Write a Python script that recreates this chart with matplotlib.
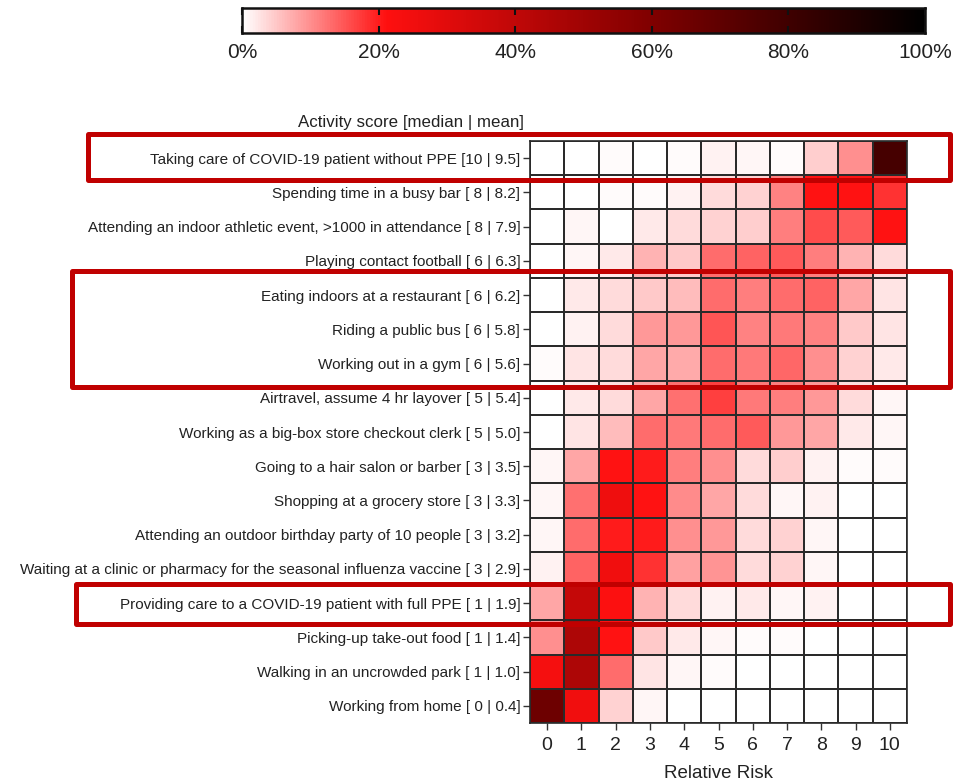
import numpy as np
import matplotlib
matplotlib.use("Agg")
import matplotlib.pyplot as plt
from matplotlib.colors import LinearSegmentedColormap
from matplotlib.patches import Rectangle
from matplotlib.transforms import blended_transform_factory

plt.rcParams['font.family'] = ['Liberation Sans', 'DejaVu Sans']

activities = [
    "Taking care of COVID-19 patient without PPE [10 | 9.5]",
    "Spending time in a busy bar [ 8 | 8.2]",
    "Attending an indoor athletic event, >1000 in attendance [ 8 | 7.9]",
    "Playing contact football [ 6 | 6.3]",
    "Eating indoors at a restaurant [ 6 | 6.2]",
    "Riding a public bus [ 6 | 5.8]",
    "Working out in a gym [ 6 | 5.6]",
    "Airtravel, assume 4 hr layover [ 5 | 5.4]",
    "Working as a big-box store checkout clerk [ 5 | 5.0]",
    "Going to a hair salon or barber [ 3 | 3.5]",
    "Shopping at a grocery store [ 3 | 3.3]",
    "Attending an outdoor birthday party of 10 people [ 3 | 3.2]",
    "Waiting at a clinic or pharmacy for the seasonal influenza vaccine [ 3 | 2.9]",
    "Providing care to a COVID-19 patient with full PPE [ 1 | 1.9]",
    "Picking-up take-out food [ 1 | 1.4]",
    "Walking in an uncrowded park [ 1 | 1.0]",
    "Working from home [ 0 | 0.4]",
]
risk_levels = [0, 1, 2, 3, 4, 5, 6, 7, 8, 9, 10]

# percentage of respondents per risk score (rows = activities)
no_ppe     = [0, 0, 0.5, 0.3, 0.6, 1.5, 1, 0.6, 4.5, 10, 78]
busy_bar   = [0, 0, 0.4, 0.4, 1.5, 3.5, 4, 11, 21, 21, 18]
athletic   = [0, 1, 0.3, 2, 3.5, 4, 4.5, 11.5, 16, 14.5, 21]
football   = [0, 1, 2, 7, 5, 13, 14, 14.5, 11.5, 7, 3.5]
restaurant = [0, 2, 3.5, 5, 6, 13, 11.5, 13, 14, 8, 2.5]
bus        = [0.3, 1.5, 3.5, 9, 9, 15, 11, 12, 11, 5, 2.5]
gym        = [0.5, 2.5, 3.5, 8, 7.5, 13, 12, 13.5, 10, 4, 2]
airtravel  = [0.2, 2, 3.5, 8, 12.5, 17, 12, 11.5, 9, 3.5, 1]
checkout   = [0.2, 2.5, 6, 13, 12, 13, 14.5, 9, 8, 2, 1]
hair_salon = [1, 8, 21, 20, 11.5, 10, 3.5, 4.5, 1.5, 0.5, 0.4]
grocery    = [1, 12.5, 26, 21, 10.5, 8, 3.5, 1, 1.2, 0, 0.1]
birthday   = [1, 13, 20, 20, 10, 9, 3.5, 4, 1, 0.3, 0.3]
flu_vax    = [1.5, 14, 25, 18, 8.5, 9.5, 3.5, 4, 1, 0.3, 0.1]
full_ppe   = [8, 39, 22, 7, 3.5, 1.5, 2, 1, 1.5, 0.3, 0.3]
takeout    = [10, 46, 21, 5, 2, 1, 0.4, 0.4, 0, 0, 0]
park       = [24, 46, 13, 2.5, 1, 0.5, 0, 0, 0, 0, 0]
home       = [66, 25, 4, 1, 0, 0, 0, 0, 0, 0, 0]

values = np.array([no_ppe, busy_bar, athletic, football, restaurant, bus, gym,
                   airtravel, checkout, hair_salon, grocery, birthday, flu_vax,
                   full_ppe, takeout, park, home]) / 100.0

cbar_ticks = [0, 0.2, 0.4, 0.6, 0.8, 1.0]
cbar_labels = ["0%", "20%", "40%", "60%", "80%", "100%"]

cmap = LinearSegmentedColormap.from_list(
    "risk", [(0.0, "#ffffff"), (0.21, "#ff1010"), (0.4, "#c00808"),
             (0.6, "#800000"), (0.8, "#400000"), (1.0, "#000000")])

W, H = 961, 784
fig = plt.figure(figsize=(W / 100, H / 100), dpi=100)

# heatmap
ax = fig.add_axes([530 / W, 1 - 723 / H, 377 / W, 582 / H])
nr, nc = values.shape
ax.pcolormesh(np.arange(nc + 1) - 0.5, np.arange(nr + 1) - 0.5, values,
              cmap=cmap, vmin=0, vmax=1, edgecolors="#2a2a2a", linewidth=1.2)
ax.set_xlim(-0.5, nc - 0.5)
ax.set_ylim(nr - 0.5, -0.5)
ax.set_xticks(range(nc))
ax.set_xticklabels([str(r) for r in risk_levels], fontsize=14, color="#222222")
ax.set_yticks(range(nr))
ax.set_yticklabels(activities, fontsize=11, color="#222222")
ax.tick_params(axis="both", length=5, width=1, color="#333333")
ax.tick_params(axis="x", pad=5)
ax.tick_params(axis="y", pad=2)
for s in ax.spines.values():
    s.set_color("#2a2a2a")
    s.set_linewidth(1.2)
ax.set_xlabel("Relative Risk", fontsize=13.5, color="#222222", labelpad=8)
ax.text(-0.015, 1.031, "Activity score [median | mean]", transform=ax.transAxes,
        ha="right", va="center", fontsize=12.2, color="#222222")

# red highlight boxes (x in figure fraction, y in row units)
tr = blended_transform_factory(fig.transFigure, ax.transData)
boxes = [(88, -0.70, 0.64), (72, 3.30, 6.69), (76, 12.45, 13.62)]
for xl, ytop, ybot in boxes:
    p = Rectangle((xl / W, ytop), 950 / W - xl / W, ybot - ytop,
                  transform=tr, fill=False, edgecolor="#c00000",
                  linewidth=3.6, joinstyle="round", clip_on=False)
    fig.add_artist(p)

# colorbar
cax = fig.add_axes([242 / W, 1 - 33 / H, 683 / W, 25 / H])
grad = np.linspace(0, 1, 512)[None, :]
cax.imshow(grad, aspect="auto", cmap=cmap, extent=[0, 1, 0, 1])
cax.set_xlim(0, 1)
cax.set_ylim(0, 1)
cax.set_yticks([])
cax.set_xticks(cbar_ticks)
cax.set_xticklabels(cbar_labels, fontsize=15, color="#222222")
cax.tick_params(axis="x", direction="in", length=5, width=1.5, color="#111111",
                top=True, bottom=True, pad=7)
for s in cax.spines.values():
    s.set_linewidth(1.8)
    s.set_color("#111111")

fig.savefig("out.png", dpi=100)
